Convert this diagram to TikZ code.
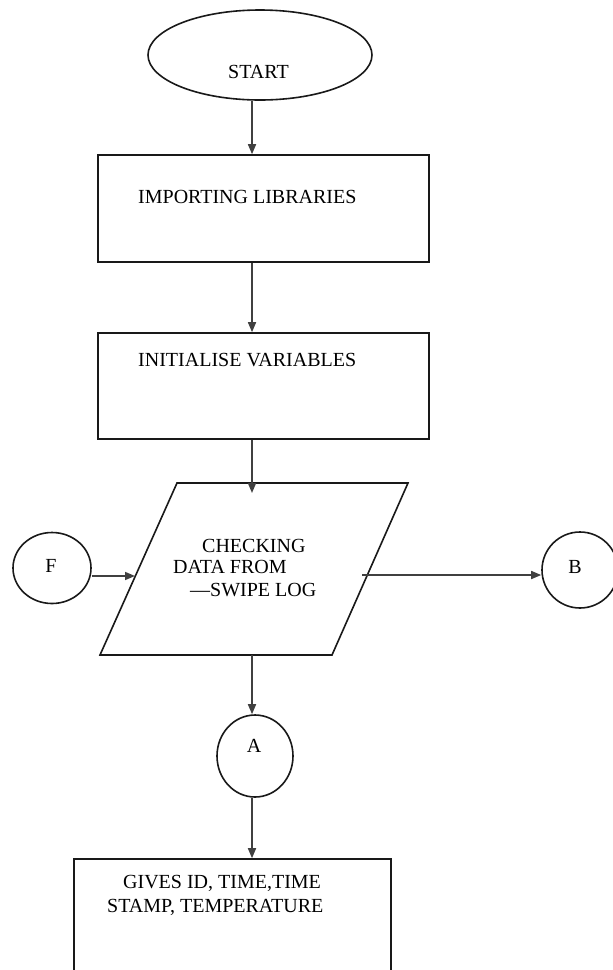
\documentclass[tikz,border=0pt]{standalone}
\usepackage{fontspec}
\setmainfont{Liberation Serif}
\usetikzlibrary{shapes.geometric,arrows.meta}
\begin{document}
\begin{tikzpicture}[x=1pt,y=-1pt,
  shapeline/.style={draw=black!90,line width=1.6pt},
  boxnode/.style={shapeline,rectangle,inner sep=0pt},
  ovalnode/.style={shapeline,ellipse,inner sep=0pt},
  txt/.style={inner sep=0pt,anchor=base west,font=\fontsize{20}{22}\selectfont},
  ctxt/.style={inner sep=0pt,anchor=base,font=\fontsize{20}{22}\selectfont},
  conn/.style={draw=black!75,line width=1.6pt,-{Triangle[length=10pt,width=8pt]}}]
\useasboundingbox (0,0) rectangle (613,970);
\fill[white] (0,0) rectangle (613,970);
\coordinate (axis) at (252,0);
% shapes
\node[ovalnode,minimum width=224pt,minimum height=90pt] (start) at (260,55) {};
\node[boxnode,minimum width=331pt,minimum height=107pt] (b1) at (263.5,208.5) {};
\node[boxnode,minimum width=331pt,minimum height=106pt] (b2) at (263.5,386) {};
\coordinate (pTL) at (177,483);
\coordinate (pTR) at (408,483);
\coordinate (pBR) at (332,655);
\coordinate (pBL) at (100,655);
\draw[shapeline] (pTL) -- (pTR) -- (pBR) -- (pBL) -- cycle;
\node[ovalnode,minimum width=78pt,minimum height=71pt] (F) at (52,568) {};
\node[ovalnode,minimum width=76pt,minimum height=76pt] (B) at (580,570) {};
\node[ovalnode,minimum width=76pt,minimum height=82pt] (A) at (255,756) {};
\node[boxnode,minimum width=317pt,minimum height=130pt] (b3) at (232.5,924) {};
% texts
\node[txt] (tstart) at (228,78) {START};
\node[txt] (t1) at (138,203) {IMPORTING LIBRARIES};
\node[txt] (t2) at (138,366) {INITIALISE VARIABLES};
\node[txt] (tp1) at (202,552) {CHECKING};
\node[txt] (tp2) at (173,573) {DATA FROM};
\node[txt] (tp3) at (190,596) {—SWIPE LOG};
\node[ctxt] (tF) at (51,572) {F};
\node[ctxt] (tB) at (575,573) {B};
\node[ctxt] (tA) at (254,752) {A};
\node[txt] (t3a) at (123,888) {GIVES ID, TIME,TIME};
\node[txt] (t3b) at (107,912) {STAMP, TEMPERATURE};
% connector ends on the parallelogram
\coordinate (pin) at (252,493);
\coordinate (pbot) at (252,655);
\coordinate (fin) at (135,576);
\coordinate (pout) at (362,575);
% connectors
\draw[conn] (start.south -| axis) -- (b1.north -| axis);
\draw[conn] (b1.south -| axis) -- (b2.north -| axis);
\draw[conn] (b2.south -| axis) -- (pin);
\draw[conn] (pbot) -- (A.north -| axis);
\draw[conn] (A.south -| axis) -- (b3.north -| axis);
\draw[conn] (F.east |- fin) -- (fin);
\draw[conn] (pout) -- (B.west |- pout);
\end{tikzpicture}
\end{document}
